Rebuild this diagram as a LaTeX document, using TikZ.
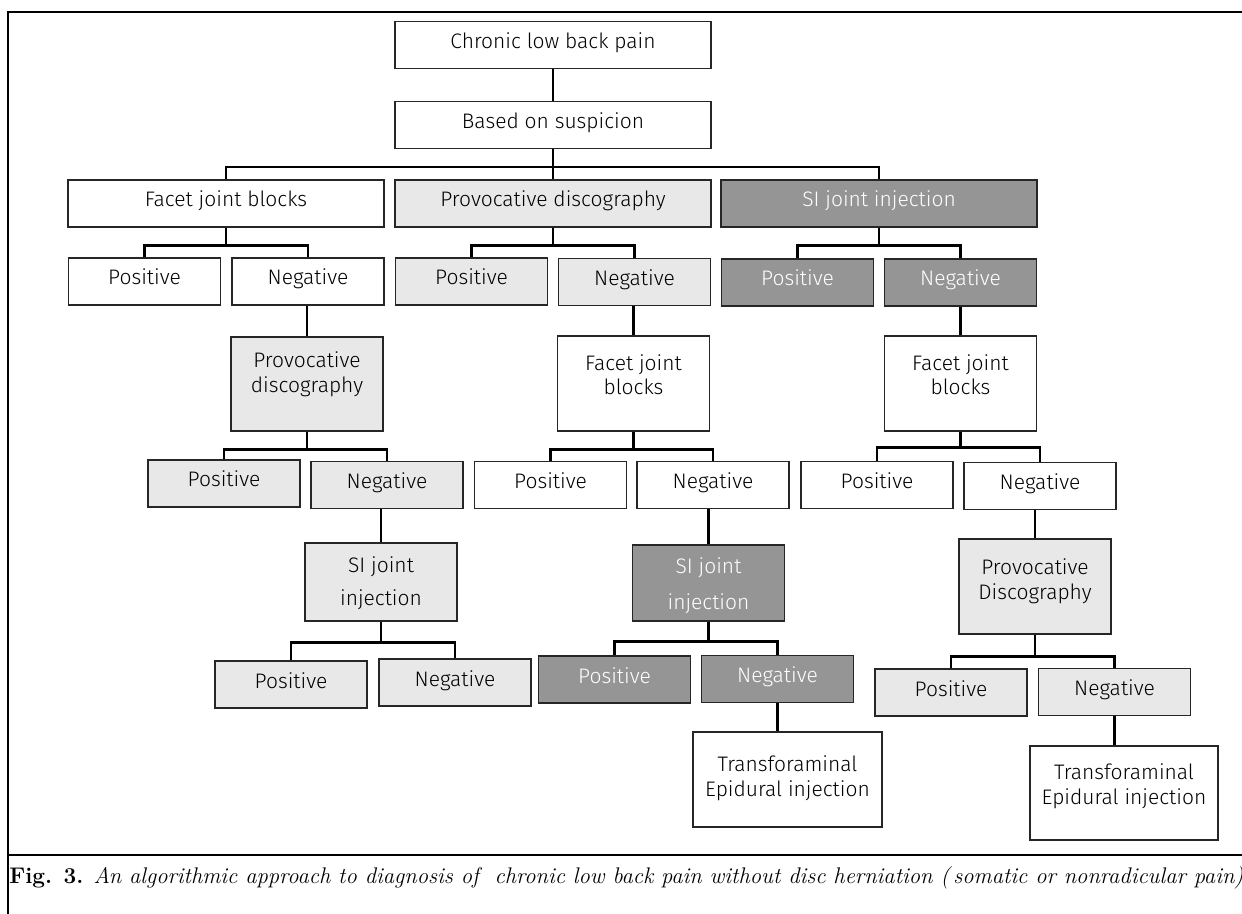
\documentclass[tikz,border=0pt]{standalone}
\usepackage{fontspec}
\usepackage{xcolor}
\usepackage{tikz}
\usetikzlibrary{calc}
\newfontfamily\boxfont{Fira Sans Light}
\definecolor{lightfill}{HTML}{E8E8E8}
\definecolor{darkfill}{HTML}{959595}

\begin{document}
\begin{tikzpicture}[x=0.5pt,y=-0.5pt,
  box/.style={draw=black!85,line width=0.6pt,inner sep=0pt,align=center,minimum width=76pt,
    text height=13.5pt,text depth=10pt,font=\boxfont\fontsize{10.5}{12.5}\selectfont},
  wide/.style={box,minimum width=158pt},
  lightbox/.style={fill=lightfill},
  darkbox/.style={fill=darkfill,text=white},
  link/.style={line width=1.2pt},
  frame/.style={line width=1.2pt}]
  \useasboundingbox (0,0) rectangle (1242,914);
  \draw[frame] (1242,12) -- (8,12) -- (8,914);
  \draw[frame] (8,855) -- (1242,855);
  % top of the tree
  \node[wide] (chronic) at (553,45) {Chronic low back pain};
  \node[wide] (based) at (553,125) {Based on suspicion};
  \node[wide] (facet) at (226,203.5) {Facet joint blocks};
  \node[wide,lightbox] (prov) at (553,203.5) {Provocative discography};
  \node[wide,darkbox] (si) at (879,203.5) {SI joint injection};
  \node[box] (fpos) at (144.5,281.5) {Positive};
  \node[box] (fneg) at (308,281.5) {Negative};
  \node[box,lightbox] (ppos) at (471.5,281.5) {Positive};
  \node[box,lightbox] (pneg) at (634.5,282) {Negative};
  \node[box,darkbox] (spos) at (797.5,282.5) {Positive};
  \node[box,darkbox] (sneg) at (960.5,282.5) {Negative};
  % second tests
  \node[box,lightbox,text height=28pt,text depth=19pt] (lprov) at (307,384) {Provocative\\discography};
  \node[box,text height=29.5pt,text depth=18pt] (mfacet) at (633.5,383.5) {Facet joint\\blocks};
  \node[box,text height=29.5pt,text depth=18pt] (rfacet) at (960.5,383.5) {Facet joint\\blocks};
  \node[box,lightbox] (lpos) at (224,483.5) {Positive};
  \node[box,lightbox] (lneg) at (387,485) {Negative};
  \node[box] (mpos) at (550.5,485) {Positive};
  \node[box] (mneg) at (713,485) {Negative};
  \node[box] (rpos) at (877,485) {Positive};
  \node[box] (rneg) at (1040,486) {Negative};
  % third tests
  \node[box,lightbox,text height=31pt,text depth=8pt] (lsi) at (381,582) {SI joint\\[4pt]injection};
  \node[box,darkbox,text height=32pt,text depth=6pt] (msi) at (708.5,583) {SI joint\\[5.5pt]injection};
  \node[box,lightbox,text height=30pt,text depth=17.5pt] (rprov) at (1035,586.5) {Provocative\\Discography};
  \node[box,lightbox] (llpos) at (291,684.5) {Positive};
  \node[box,lightbox] (llneg) at (455,682.5) {Negative};
  \node[box,darkbox] (mmpos) at (614.5,679.5) {Positive};
  \node[box,darkbox] (mmneg) at (777.5,679) {Negative};
  \node[box,lightbox] (rrpos) at (951,692.5) {Positive};
  \node[box,lightbox] (rrneg) at (1114.5,692) {Negative};
  \node[box,minimum width=94.5pt,text height=32pt,text depth=15.5pt] (mtrans) at (787.5,779.5) {Transforaminal\\Epidural injection};
  \node[box,minimum width=94pt,text height=29pt,text depth=18pt] (rtrans) at (1124,793) {Transforaminal\\Epidural injection};
  % buses
  \coordinate (b0) at ([yshift=-9pt]based.south);
  \coordinate (b1) at ([yshift=-9pt]facet.south);
  \coordinate (b2) at ([yshift=-9pt]prov.south);
  \coordinate (b3) at ([yshift=-9pt]si.south);
  \coordinate (b4) at ([yshift=-9pt]lprov.south);
  \coordinate (b5) at ([yshift=-9pt]mfacet.south);
  \coordinate (b6) at ([yshift=-8pt]rfacet.south);
  \coordinate (b7) at ([yshift=-10.5pt]lsi.south);
  \coordinate (b8) at ([yshift=-10pt]msi.south);
  \coordinate (b9) at ([yshift=-11pt]rprov.south);
  \draw[link] (chronic) -- (based);
  \draw[link] (based) -- (prov);
  \draw[link] (facet.north) |- (b0) -| (si.north);
  \foreach \p/\b/\l/\r in {facet/b1/fpos/fneg,prov/b2/ppos/pneg,si/b3/spos/sneg,
      lprov/b4/lpos/lneg,mfacet/b5/mpos/mneg,rfacet/b6/rpos/rneg,
      lsi/b7/llpos/llneg,msi/b8/mmpos/mmneg,rprov/b9/rrpos/rrneg}{
    \draw[link] (\p.south) -- (\b);
    \draw[link] (\l.north) |- (\b) -| (\r.north);
  }
  \foreach \p/\c in {fneg/lprov,pneg/mfacet,sneg/rfacet,lneg/lsi,mneg/msi,rneg/rprov}
    \draw[link] (\c.north |- \p.south) -- (\c.north);
  \draw[link] (mmneg.south) -- (mmneg.south |- mtrans.north);
  \draw[link] (rrneg.south) -- (rrneg.south |- rtrans.north);
  \node[anchor=base west,inner sep=0pt,font=\fontsize{11.3}{13}\selectfont] (caption) at (9,883)
    {\textbf{Fig. 3.}\hspace{0.45em}\textit{An algorithmic approach to diagnosis of\ \ chronic low back pain without disc herniation (\,somatic or nonradicular pain)}};
\end{tikzpicture}
\end{document}
